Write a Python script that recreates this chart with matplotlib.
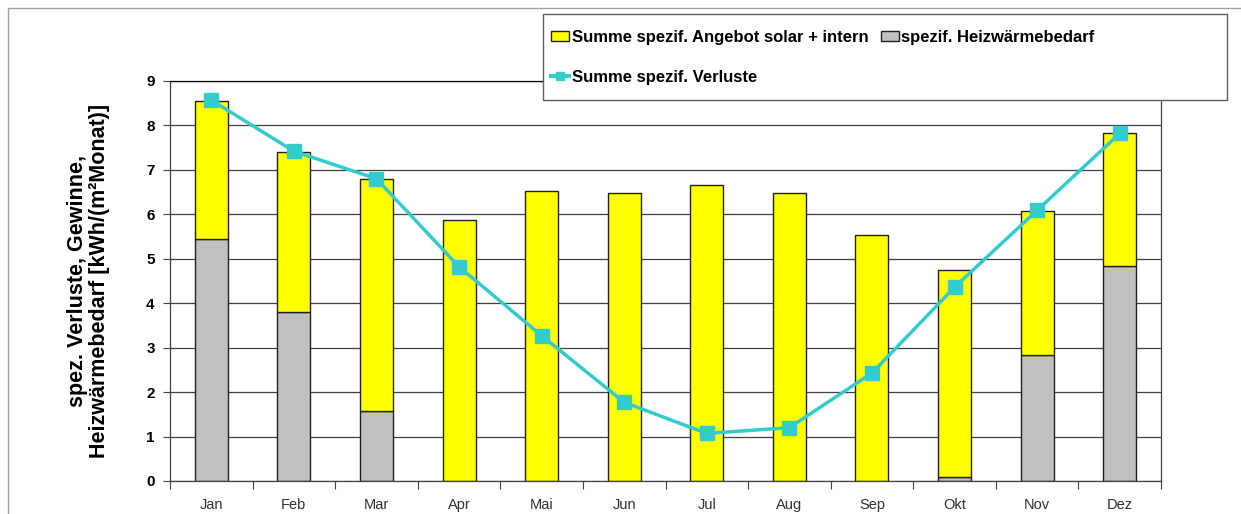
import numpy as np
import matplotlib.pyplot as plt
import matplotlib.patches as patches
from matplotlib.lines import Line2D

months = ['Jan', 'Feb', 'Mar', 'Apr', 'Mai', 'Jun', 'Jul', 'Aug', 'Sep', 'Okt', 'Nov', 'Dez']
heizwaerme = [5.45, 3.80, 1.58, 0.01, 0.0, 0.0, 0.0, 0.0, 0.0, 0.08, 2.83, 4.83]
angebot = [3.10, 3.60, 5.22, 5.87, 6.52, 6.48, 6.65, 6.48, 5.53, 4.67, 3.24, 2.99]
verluste = [8.57, 7.42, 6.80, 4.82, 3.27, 1.77, 1.07, 1.20, 2.43, 4.36, 6.09, 7.82]

plt.rcParams['font.family'] = ['Liberation Sans', 'DejaVu Sans']

fig = plt.figure(figsize=(12.41, 5.14), dpi=100)
ax = fig.add_axes([170 / 1241, 1 - 481 / 514, 991 / 1241, 400 / 514])

x = np.arange(len(months))
ax.bar(x, heizwaerme, width=0.4, color='#c0c0c0', edgecolor='#202020', linewidth=1.0, zorder=2)
ax.bar(x, angebot, width=0.4, bottom=heizwaerme, color='#ffff00', edgecolor='#202020', linewidth=1.0, zorder=2)
ax.plot(x, verluste, color='#33cccc', lw=2.5, marker='s', ms=9.5, zorder=3)

ax.set_xlim(-0.5, 11.5)
ax.set_ylim(0, 9)
ax.set_yticks(range(10))
ax.set_yticklabels([str(i) for i in range(10)], fontsize=11, fontweight='bold')
ax.yaxis.grid(True, color='#404040', lw=0.9, zorder=0)
ax.set_axisbelow(True)
ax.tick_params(axis='y', length=5, width=0.8, color='#404040', pad=6)

# ticks at category boundaries, labels centred under the bars
ax.set_xticks(np.arange(-0.5, 12, 1.0))
ax.set_xticklabels([])
ax.set_xticks(x, minor=True)
ax.set_xticklabels(months, minor=True, fontsize=10.5, color='#303030')
ax.tick_params(axis='x', which='major', length=6, width=0.8, color='#404040')
ax.tick_params(axis='x', which='minor', length=0, pad=12)
for s in ax.spines.values():
    s.set_color('#404040')
    s.set_linewidth(0.9)
ax.spines['top'].set_color('black')

ax.set_ylabel('spez. Verluste, Gewinne,\nHeizwärmebedarf [kWh/(m²Monat)]',
              fontsize=15.5, fontweight='bold', labelpad=26, linespacing=1.1)

# outer chart frame
fig.patches.append(patches.Rectangle((8 / 1241, -0.2), 1.2, 1.2 - 8 / 514,
                                     transform=fig.transFigure, fill=False,
                                     edgecolor='#a0a0a0', lw=1.0, zorder=0))

# legend box
fig.patches.append(patches.Rectangle((543 / 1241, 1 - 100 / 514), 684 / 1241, 86 / 514,
                                     transform=fig.transFigure, facecolor='white',
                                     edgecolor='#606060', lw=1.0, zorder=5))
handles = [patches.Patch(facecolor='#ffff00', edgecolor='#202020'),
           Line2D([], [], color='#33cccc', lw=3, marker='s', ms=6),
           patches.Patch(facecolor='#c0c0c0', edgecolor='#202020')]
labels = ['Summe spezif. Angebot solar + intern', 'Summe spezif. Verluste', 'spezif. Heizwärmebedarf']
leg = fig.legend(handles, labels, ncol=2, loc='upper left', frameon=False,
                 bbox_to_anchor=(539 / 1241, 1 - 18 / 514), bbox_transform=fig.transFigure,
                 prop={'weight': 'bold', 'size': 12}, handlelength=1.1, handleheight=0.55,
                 handletextpad=0.15, columnspacing=0.75, labelspacing=1.5, borderpad=0.2)
leg.set_zorder(6)

fig.savefig('out.png', dpi=100)
